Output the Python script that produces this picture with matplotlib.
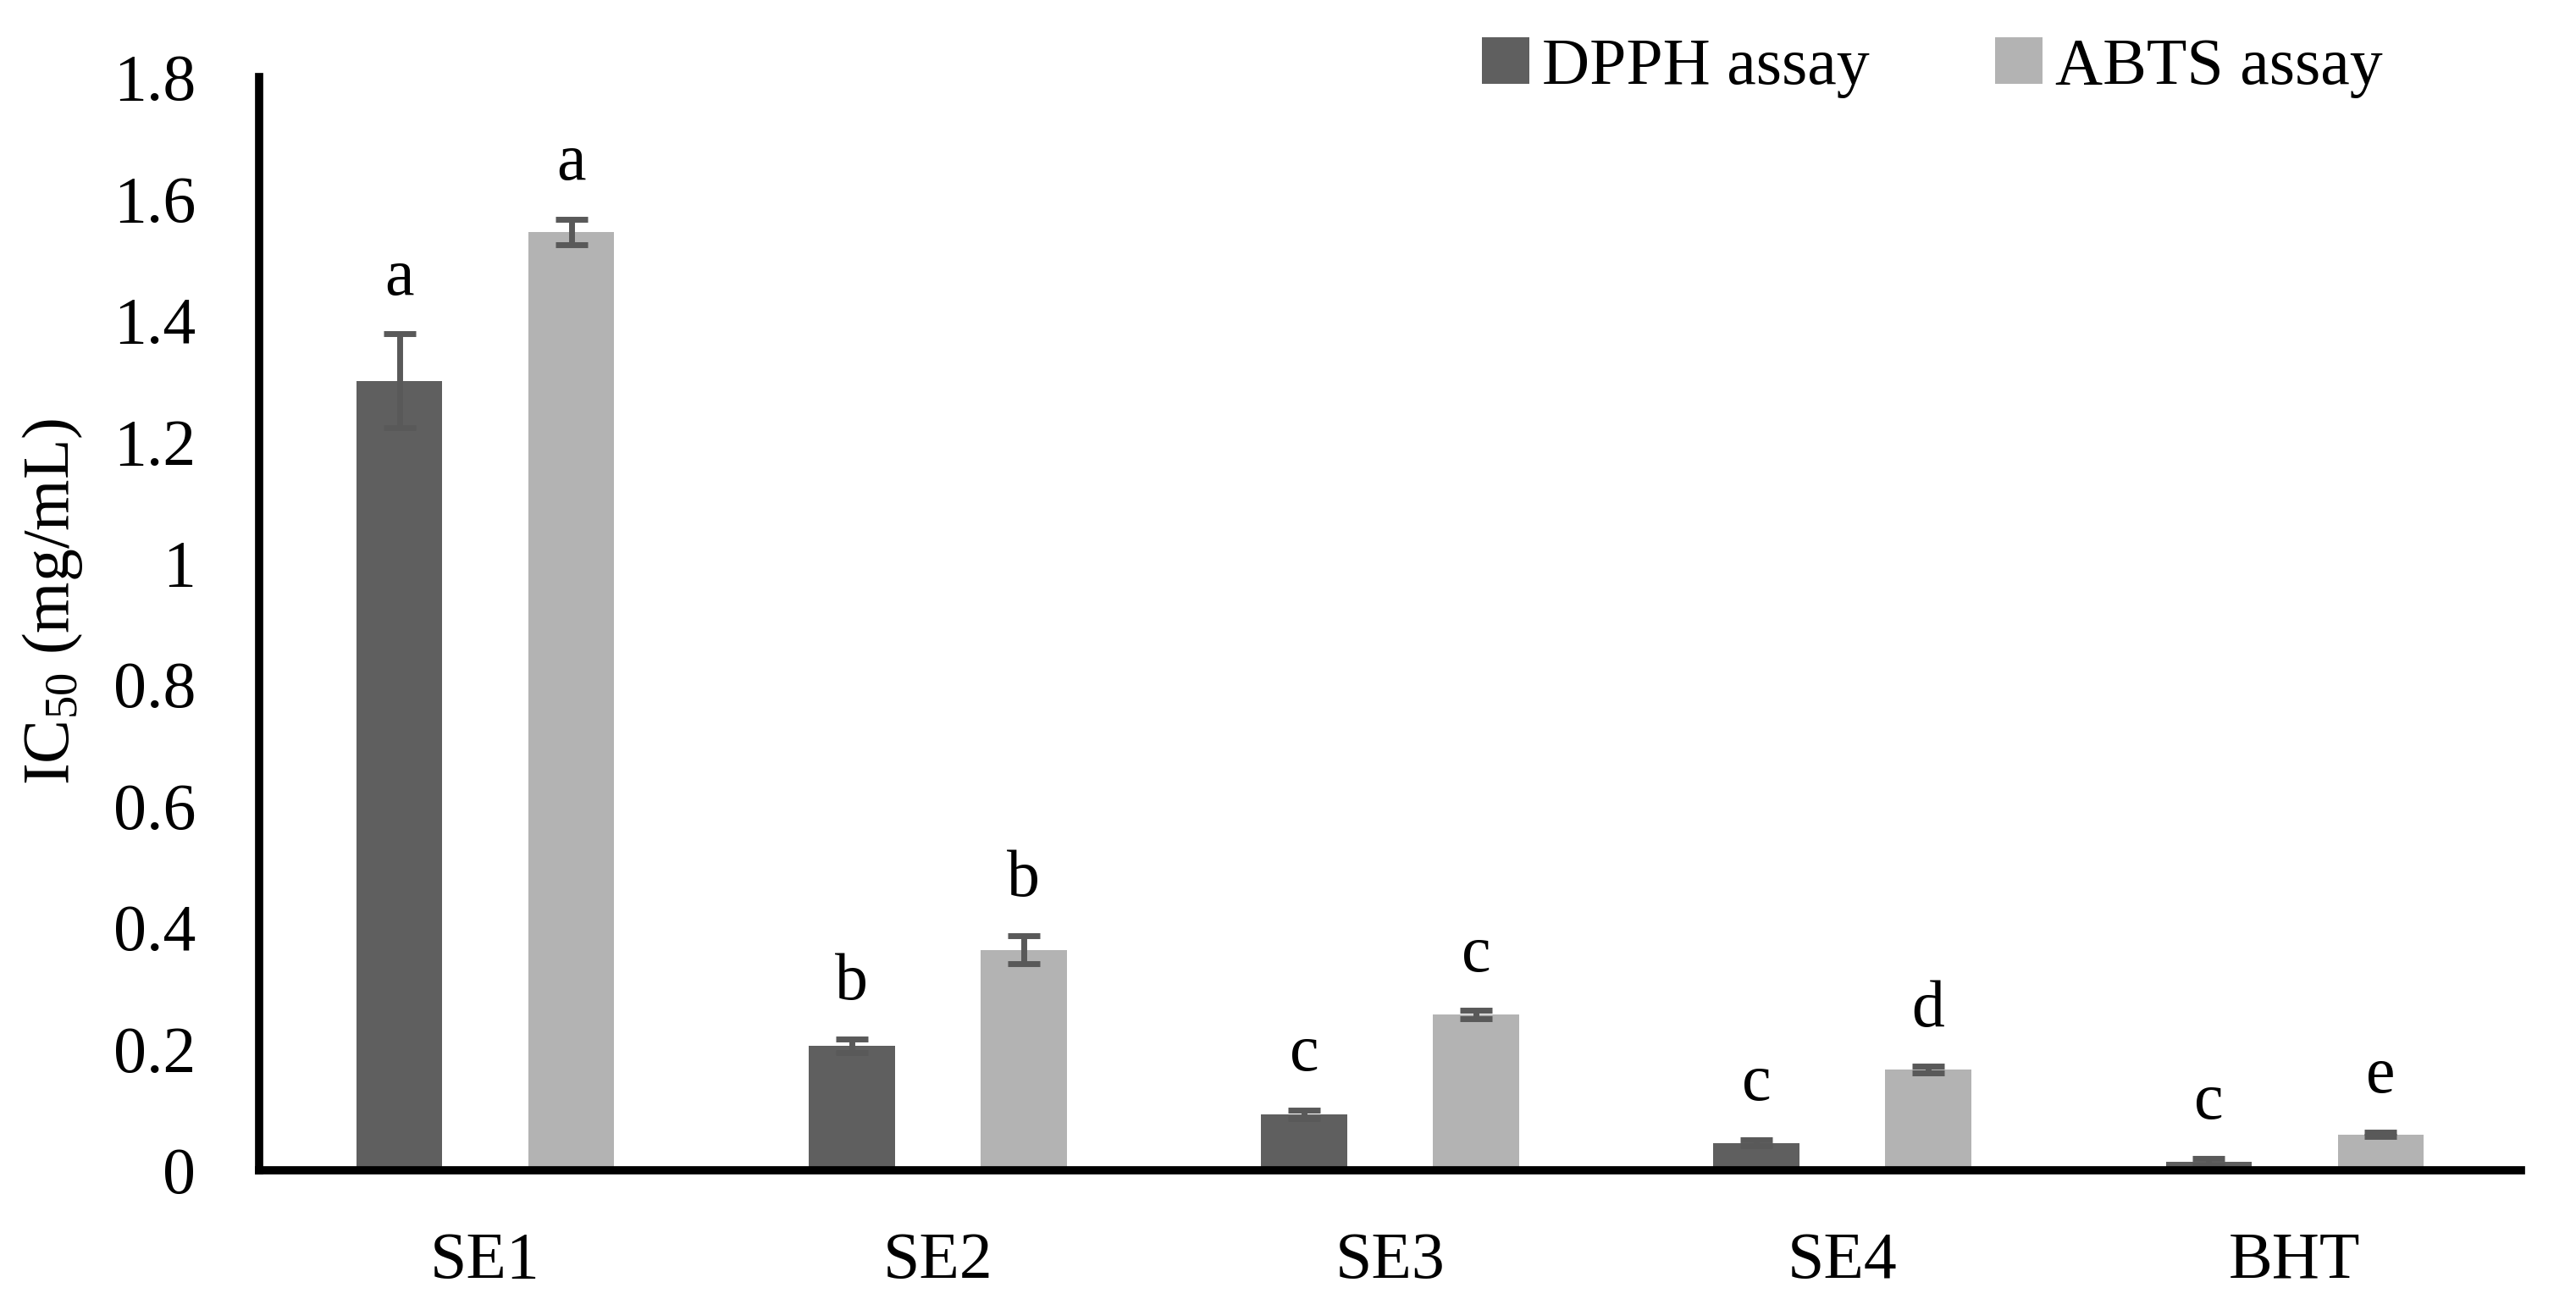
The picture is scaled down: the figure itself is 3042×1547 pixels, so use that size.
#!/usr/bin/env python3
"""IC50 bar chart, DPPH vs ABTS assays."""

import numpy as np
import matplotlib
matplotlib.use("Agg")
import matplotlib.pyplot as plt

SAMPLES = ["SE1", "SE2", "SE3", "SE4", "BHT"]
DPPH = [1.30, 0.205, 0.092, 0.045, 0.014]
DPPH_ERR = [0.077, 0.011, 0.007, 0.005, 0.006]
ABTS = [1.545, 0.363, 0.256, 0.166, 0.059]
ABTS_ERR = [0.021, 0.023, 0.007, 0.006, 0.004]
DPPH_LETTERS = ["a", "b", "c", "c", "c"]
ABTS_LETTERS = ["a", "b", "c", "d", "e"]
YTICKS = [0, 0.2, 0.4, 0.6, 0.8, 1, 1.2, 1.4, 1.6, 1.8]
YTICK_LABELS = ["0", "0.2", "0.4", "0.6", "0.8", "1", "1.2", "1.4", "1.6", "1.8"]

plt.rcParams["font.family"] = ["Liberation Serif", "DejaVu Serif"]
plt.rcParams["mathtext.fontset"] = "custom"
plt.rcParams["mathtext.rm"] = "Liberation Serif"
plt.rcParams["mathtext.it"] = "Liberation Serif:italic"

FS = 56
C_DPPH = "#5f5f5f"
C_ABTS = "#b3b3b3"
C_ERR = "#595959"


def main():
    fig = plt.figure(figsize=(30.42, 15.47), dpi=100)
    ax = fig.add_axes([0.1006, 0.1067, 0.8780, 0.8345])

    x = np.arange(len(SAMPLES))
    w = 0.19
    off = 0.19
    err_kw = dict(ecolor=C_ERR, elinewidth=5, capsize=14, capthick=5)

    ax.bar(x - off, DPPH, w, color=C_DPPH, label="DPPH assay",
           yerr=DPPH_ERR, error_kw=err_kw)
    ax.bar(x + off, ABTS, w, color=C_ABTS, label="ABTS assay",
           yerr=ABTS_ERR, error_kw=err_kw)

    # letras de significancia acima das barras de erro
    for i in range(len(SAMPLES)):
        ax.text(x[i] - off, DPPH[i] + DPPH_ERR[i] + 0.065, DPPH_LETTERS[i],
                ha="center", va="baseline", fontsize=FS)
        ax.text(x[i] + off, ABTS[i] + ABTS_ERR[i] + 0.065, ABTS_LETTERS[i],
                ha="center", va="baseline", fontsize=FS)

    ax.set_xlim(-0.5, len(SAMPLES) - 0.5)
    ax.set_ylim(0, 1.8)
    ax.set_xticks(x)
    ax.set_xticklabels(SAMPLES, fontsize=FS)
    ax.set_yticks(YTICKS)
    ax.set_yticklabels(YTICK_LABELS, fontsize=FS)
    ax.tick_params(axis="both", length=0)
    ax.tick_params(axis="x", pad=52)
    ax.tick_params(axis="y", pad=54)

    for s in ["top", "right"]:
        ax.spines[s].set_visible(False)
    for s in ["left", "bottom"]:
        ax.spines[s].set_linewidth(7)
        ax.spines[s].set_color("black")

    ax.set_ylabel("IC$_{50}$ (mg/mL)", fontsize=FS)
    ax.yaxis.set_label_coords(-0.077, 0.52)

    fig.legend(loc="center right", bbox_to_anchor=(0.948, 1 - 80 / 1547),
               ncol=2, frameon=False, fontsize=FS,
               handlelength=0.72, handleheight=0.7,
               handletextpad=0.2, columnspacing=1.9)

    fig.savefig("out.png", dpi=100)


if __name__ == "__main__":
    main()
